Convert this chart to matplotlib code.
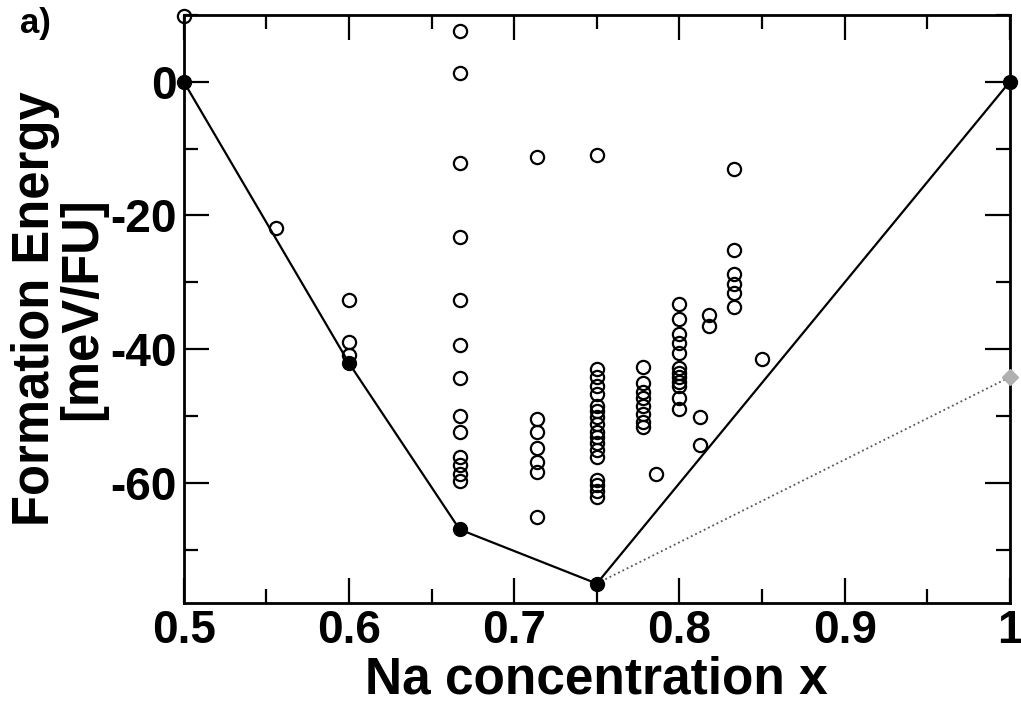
import matplotlib
matplotlib.use('Agg')
import matplotlib.pyplot as plt
from matplotlib.ticker import MultipleLocator, FuncFormatter

# open circles: all computed structures
x_open = ([0.5, 0.556, 0.6, 0.6, 0.6]
          + [0.667] * 13
          + [0.714] * 7
          + [0.75] * 18
          + [0.778] * 8
          + [0.786, 0.8125, 0.8125]
          + [0.8] * 12
          + [0.818, 0.818]
          + [0.833] * 6
          + [0.85])
y_open = ([9.9, -21.9, -32.7, -39.0, -40.9]
          + [7.6, 1.3, -12.2, -23.3, -32.7, -39.4, -44.3, -50.0, -52.4, -56.1, -57.3, -58.7, -59.7]
          + [-11.3, -50.4, -52.4, -54.8, -56.9, -58.4, -65.1]
          + [-11.0, -43.0, -44.2, -45.5, -46.7, -48.5, -49.3, -50.1, -51.2, -52.4, -53.1, -54.0,
             -55.1, -56.1, -59.6, -60.4, -61.2, -62.1]
          + [-42.7, -45.1, -46.4, -47.3, -48.5, -49.7, -50.9, -51.6]
          + [-58.7, -50.1, -54.3]
          + [-33.3, -35.5, -37.8, -39.1, -40.6, -42.8, -43.6, -44.2, -44.9, -45.5, -47.3, -49.0]
          + [-34.9, -36.6]
          + [-13.0, -25.2, -28.8, -30.3, -31.6, -33.7]
          + [-41.5])

# convex hull (ground states)
x_hull = [0.5, 0.6, 0.667, 0.75, 1.0]
y_hull = [0.0, -42.1, -67.0, -75.1, 0.0]

# dotted tie line to the alternative end member
x_alt = [0.75, 1.0]
y_alt = [-75.1, -44.2]

plt.rcParams['font.family'] = ['Liberation Sans', 'DejaVu Sans']
plt.rcParams['font.weight'] = 'bold'
plt.rcParams['axes.unicode_minus'] = False

fig = plt.figure(figsize=(10.21, 7.14), dpi=100)
ax = fig.add_axes([0.180, 0.1555, 0.809, 0.8235])

ax.plot(x_alt, y_alt, color='#555555', linestyle=':', linewidth=1.3, zorder=2)
ax.plot(x_alt[1:], y_alt[1:], linestyle='none', marker='D', markersize=8,
        color='#b0b0b0', clip_on=False, zorder=4)

ax.plot(x_hull, y_hull, color='black', linewidth=1.6, zorder=3)
ax.plot(x_hull, y_hull, linestyle='none', marker='o', markersize=10,
        color='black', clip_on=False, zorder=5)

ax.plot(x_open, y_open, linestyle='none', marker='o', markersize=9.5,
        markerfacecolor='none', markeredgecolor='black', markeredgewidth=1.6,
        clip_on=False, zorder=4)

ax.set_xlim(0.5, 1.0)
ax.set_ylim(-78, 10)

ax.xaxis.set_major_locator(MultipleLocator(0.1))
ax.xaxis.set_minor_locator(MultipleLocator(0.05))
ax.yaxis.set_major_locator(MultipleLocator(20))
ax.yaxis.set_minor_locator(MultipleLocator(10))
ax.xaxis.set_major_formatter(FuncFormatter(lambda v, p: '1' if abs(v - 1) < 1e-9 else f'{v:.1f}'))
ax.yaxis.set_major_formatter(FuncFormatter(lambda v, p: f'{v:.0f}'))

ax.tick_params(which='both', direction='in', top=True, right=True, width=1.6)
ax.tick_params(which='major', length=18, labelsize=33)
ax.tick_params(axis='x', which='major', pad=4)
ax.tick_params(axis='y', which='major', pad=5)
ax.tick_params(which='minor', length=10)
for s in ax.spines.values():
    s.set_linewidth(2)

ax.set_xlabel('Na concentration x', fontsize=37, fontweight='bold', labelpad=2)
ax.set_ylabel('Formation Energy\n[meV/FU]', fontsize=36.5, fontweight='bold',
              linespacing=0.95, labelpad=2)

fig.text(0.02, 0.99, 'a)', fontsize=25, fontweight='bold', va='top', ha='left')

fig.savefig('out.png', dpi=100)
